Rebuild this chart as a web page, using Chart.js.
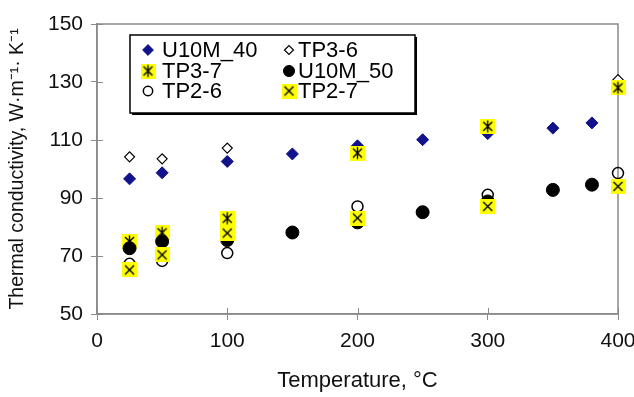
<!DOCTYPE html>
<html><head><meta charset="utf-8">
<script src="https://cdn.jsdelivr.net/npm/chart.js@4.4.1/dist/chart.umd.min.js"></script>
<style>
html,body{margin:0;padding:0;background:#fff;overflow:hidden;}
#wrap{width:634px;height:397px;position:relative;overflow:hidden;}
canvas{display:block;}
</style></head><body>
<div id="wrap"><canvas id="c" width="634" height="397"></canvas></div>
<script>
// ---- data ----
const xTickValues = [0, 100, 200, 300, 400];
const yTickValues = [50, 70, 90, 110, 130, 150];
const seriesNames = ['U10M_40', 'TP3-6', 'TP3-7', 'U10M_50', 'TP2-6', 'TP2-7'];
const u10m40Temp = [25, 50, 100, 150, 200, 250, 300, 350, 380];
const u10m40Val  = [96.6, 98.7, 102.6, 105.2, 108, 110.1, 112.2, 114.1, 115.9];
const tp36Temp = [25, 50, 100, 400];
const tp36Val  = [104.2, 103.5, 107.2, 130.8];
const tp37Temp = [25, 50, 100, 200, 300, 400];
const tp37Val  = [75, 78, 83, 105.5, 114.7, 128];
const u10m50Temp = [25, 50, 100, 150, 200, 250, 300, 350, 380];
const u10m50Val  = [72.7, 75, 75.5, 78.1, 81.6, 85.1, 88.8, 92.8, 94.6];
const tp26Temp = [25, 50, 100, 200, 300, 400];
const tp26Val  = [67.3, 68.3, 71, 87.1, 91.1, 98.6];
const tp27Temp = [25, 50, 100, 200, 300, 400];
const tp27Val  = [65.2, 70.4, 77.9, 83.1, 87.1, 94];

const FONT = "'Liberation Sans', Arial, sans-serif";

function makeYellow(kind) {
  const s = 15, c = document.createElement('canvas');
  c.width = s; c.height = s;
  const g = c.getContext('2d');
  g.fillStyle = '#ffff00';
  g.fillRect(0, 0, s, s);
  g.strokeStyle = '#000';
  g.lineWidth = 1.4;
  g.beginPath();
  g.moveTo(3, 3); g.lineTo(12, 12);
  g.moveTo(12, 3); g.lineTo(3, 12);
  if (kind === 'star') { g.moveTo(7.5, 1.5); g.lineTo(7.5, 13.5); }
  g.stroke();
  return c;
}
const starImg = makeYellow('star');
const crossImg = makeYellow('cross');

const pts = (t, v) => t.map((x, i) => ({x: x, y: v[i]}));

const datasets = [
  {label: seriesNames[0], data: pts(u10m40Temp, u10m40Val), pointStyle: 'rectRot', pointRadius: 6,
   pointBackgroundColor: '#12128c', pointBorderColor: '#12128c', pointBorderWidth: 1, order: 6},
  {label: seriesNames[1], data: pts(tp36Temp, tp36Val), pointStyle: 'rectRot', pointRadius: 5,
   pointBackgroundColor: '#ffffff', pointBorderColor: '#000', pointBorderWidth: 1.2, order: 5},
  {label: seriesNames[2], data: pts(tp37Temp, tp37Val), pointStyle: starImg, pointRadius: 7,
   pointBackgroundColor: '#ffff00', pointBorderColor: '#000', order: 4},
  {label: seriesNames[3], data: pts(u10m50Temp, u10m50Val), pointStyle: 'circle', pointRadius: 6.5,
   pointBackgroundColor: '#000', pointBorderColor: '#000', pointBorderWidth: 1, order: 3},
  {label: seriesNames[4], data: pts(tp26Temp, tp26Val), pointStyle: 'circle', pointRadius: 5.5,
   pointBackgroundColor: 'rgba(0,0,0,0)', pointBorderColor: '#000', pointBorderWidth: 1.5, order: 2},
  {label: seriesNames[5], data: pts(tp27Temp, tp27Val), pointStyle: crossImg, pointRadius: 7,
   pointBackgroundColor: '#ffff00', pointBorderColor: '#000', order: 1}
].map(d => Object.assign(d, {showLine: false, clip: false, pointHoverRadius: d.pointRadius}));

const frame = {
  id: 'frame',
  beforeDatasetsDraw(chart) {
    const {ctx, chartArea: a, scales} = chart;
    ctx.save();
    ctx.strokeStyle = '#8a8a8a';
    ctx.lineWidth = 1.5;
    ctx.strokeRect(a.left, a.top, a.right - a.left, a.bottom - a.top);
    ctx.lineWidth = 1;
    ctx.beginPath();
    xTickValues.forEach(v => {
      const x = Math.round(scales.x.getPixelForValue(v)) + 0.5;
      ctx.moveTo(x, a.bottom); ctx.lineTo(x, a.bottom - 6);
    });
    yTickValues.forEach(v => {
      const y = Math.round(scales.y.getPixelForValue(v)) + 0.5;
      ctx.moveTo(a.left, y); ctx.lineTo(a.left + 6, y);
    });
    ctx.stroke();
    ctx.restore();
  }
};

const legendBox = {
  id: 'legendBox',
  afterDraw(chart) {
    const ctx = chart.ctx;
    const bx = 130, by = 35, bw = 285, bh = 78;
    ctx.save();
    ctx.fillStyle = '#000';
    ctx.fillRect(bx + 2, by + 2, bw, bh);
    ctx.fillStyle = '#fff';
    ctx.fillRect(bx, by, bw, bh);
    ctx.strokeStyle = '#000';
    ctx.lineWidth = 1.5;
    ctx.strokeRect(bx, by, bw, bh);
    const colMarker = [148, 289], colText = [162, 298], rowY = [50, 71, 91];
    ctx.font = '22px ' + FONT;
    ctx.textBaseline = 'middle';
    ctx.textAlign = 'left';
    chart.data.datasets.forEach((d, i) => {
      const col = i % 2, row = Math.floor(i / 2);
      const mx = colMarker[col], my = rowY[row];
      ctx.fillStyle = d.pointBackgroundColor;
      ctx.strokeStyle = d.pointBorderColor;
      ctx.lineWidth = d.pointBorderWidth || 1;
      Chart.helpers.drawPoint(ctx, {pointStyle: d.pointStyle, radius: d.pointRadius * (d.pointStyle === 'rectRot' ? 0.9 : 0.85), rotation: 0, borderWidth: d.pointBorderWidth || 1}, mx, my);
      ctx.fillStyle = '#000';
      ctx.fillText(d.label, colText[col], my + 1);
    });
    ctx.restore();
  }
};

new Chart(document.getElementById('c'), {
  type: 'scatter',
  data: {datasets: datasets},
  options: {
    responsive: false,
    animation: false,
    layout: {padding: {top: 24, right: 16, bottom: 0, left: 0}},
    plugins: {legend: {display: false}, tooltip: {enabled: false}},
    scales: {
      x: {
        type: 'linear', min: 0, max: 400,
        afterBuildTicks: s => { s.ticks = xTickValues.map(v => ({value: v})); },
        afterFit: s => { s.height = 83; s.paddingLeft = 0; s.paddingRight = 0; },
        ticks: {font: {size: 21, family: FONT}, color: '#111', padding: 9, maxRotation: 0, autoSkip: false},
        grid: {display: true, drawOnChartArea: false, drawTicks: true, tickLength: 6, color: '#8a8a8a'},
        border: {display: true, color: '#8a8a8a', width: 1.5},
        title: {display: true, text: 'Temperature, °C', font: {size: 22, family: FONT}, color: '#111', padding: {top: 4, bottom: 3}}
      },
      y: {
        type: 'linear', min: 50, max: 150,
        afterBuildTicks: s => { s.ticks = yTickValues.map(v => ({value: v})); },
        afterFit: s => { s.width = 97; s.paddingTop = 0; s.paddingBottom = 0; },
        ticks: {font: {size: 21, family: FONT}, color: '#111', padding: 8, autoSkip: false},
        grid: {display: true, drawOnChartArea: false, drawTicks: true, tickLength: 6, color: '#8a8a8a'},
        border: {display: true, color: '#8a8a8a', width: 1.5},
        title: {display: true, text: 'Thermal conductivity, W·m⁻¹· K⁻¹', font: {size: 19.5, family: FONT}, color: '#111', padding: {top: 6, bottom: 4}}
      }
    }
  },
  plugins: [frame, legendBox]
});
</script>
</body></html>
